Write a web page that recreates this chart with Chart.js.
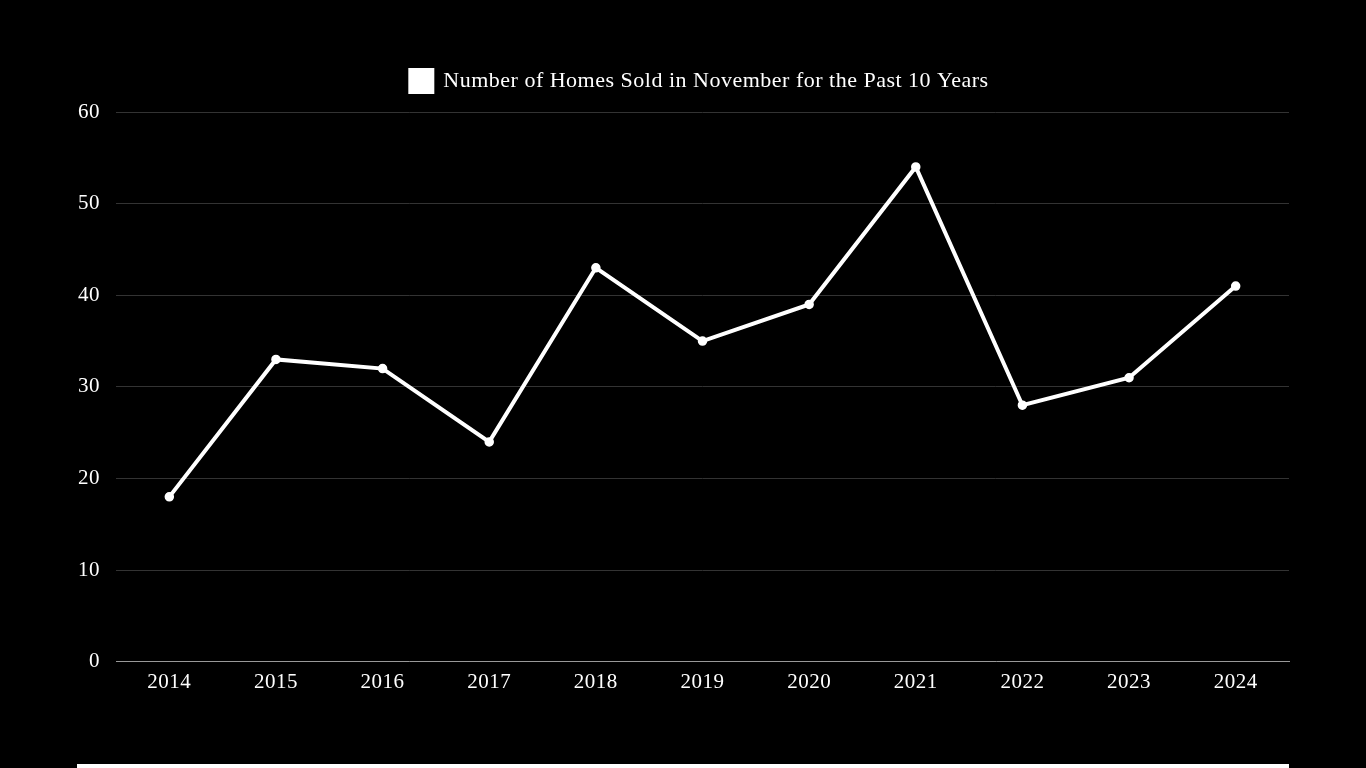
<!DOCTYPE html>
<html>
<head>
<meta charset="utf-8">
<script src="https://cdn.jsdelivr.net/npm/chart.js@4"></script>
<style>
  html, body { margin: 0; padding: 0; background: #000; width: 1366px; height: 768px; overflow: hidden; }
  #wrap { position: absolute; left: 62px; top: 58px; width: 1276px; height: 645px; }
  #bar { position: absolute; left: 77px; top: 764px; width: 1212px; height: 20px; background: #fff; }
</style>
</head>
<body>
<div id="wrap"><canvas id="chart"></canvas></div>
<div id="bar"></div>
<script>
const years = ["2014", "2015", "2016", "2017", "2018", "2019", "2020", "2021", "2022", "2023", "2024"];
const homesSold = [18, 33, 32, 24, 43, 35, 39, 54, 28, 31, 41];
const seriesLabel = "Number of Homes Sold in November for the Past 10 Years";

Chart.defaults.font.family = "'Liberation Serif', 'Times New Roman', serif";
Chart.defaults.font.size = 21;
Chart.defaults.color = "#fff";

// slightly wider text spacing like the original
const spacing = {
  id: "spacing",
  beforeUpdate(chart) { chart.ctx.letterSpacing = "0.5px"; },
  beforeLayout(chart) { chart.ctx.letterSpacing = "0.5px"; },
  beforeDraw(chart) { chart.ctx.letterSpacing = "0.5px"; }
};

// extra room under the legend, and nudge it right a bit
const legendGap = {
  id: "legendGap",
  beforeInit(chart) {
    const fit = chart.legend.fit;
    chart.legend.fit = function () {
      fit.call(this);
      this.height += 10;
    };
  },
  afterLayout(chart) {
    chart.legend.left += 24;
    chart.legend.right += 24;
  }
};

new Chart(document.getElementById("chart"), {
  type: "line",
  data: {
    labels: years,
    datasets: [{
      label: seriesLabel,
      data: homesSold,
      borderColor: "#fff",
      backgroundColor: "#fff",
      borderWidth: 4,
      pointRadius: 4,
      pointBorderWidth: 1.5,
      pointBackgroundColor: "#fff",
      tension: 0
    }]
  },
  plugins: [spacing, legendGap],
  options: {
    responsive: true,
    maintainAspectRatio: false,
    animation: false,
    layout: { padding: { right: 49 } },
    plugins: {
      legend: {
        labels: { boxWidth: 22, boxHeight: 22, color: "#fff", font: { size: 22 }, padding: 12 }
      }
    },
    scales: {
      x: {
        offset: true,
        grid: { display: false, drawTicks: false },
        border: { color: "#999" },
        ticks: { padding: 8, color: "#fff" }
      },
      y: {
        min: 0,
        max: 60,
        ticks: { stepSize: 10, padding: 16, color: "#fff" },
        grid: { color: "#333", drawTicks: false },
        border: { display: false }
      }
    }
  }
});
</script>
</body>
</html>
